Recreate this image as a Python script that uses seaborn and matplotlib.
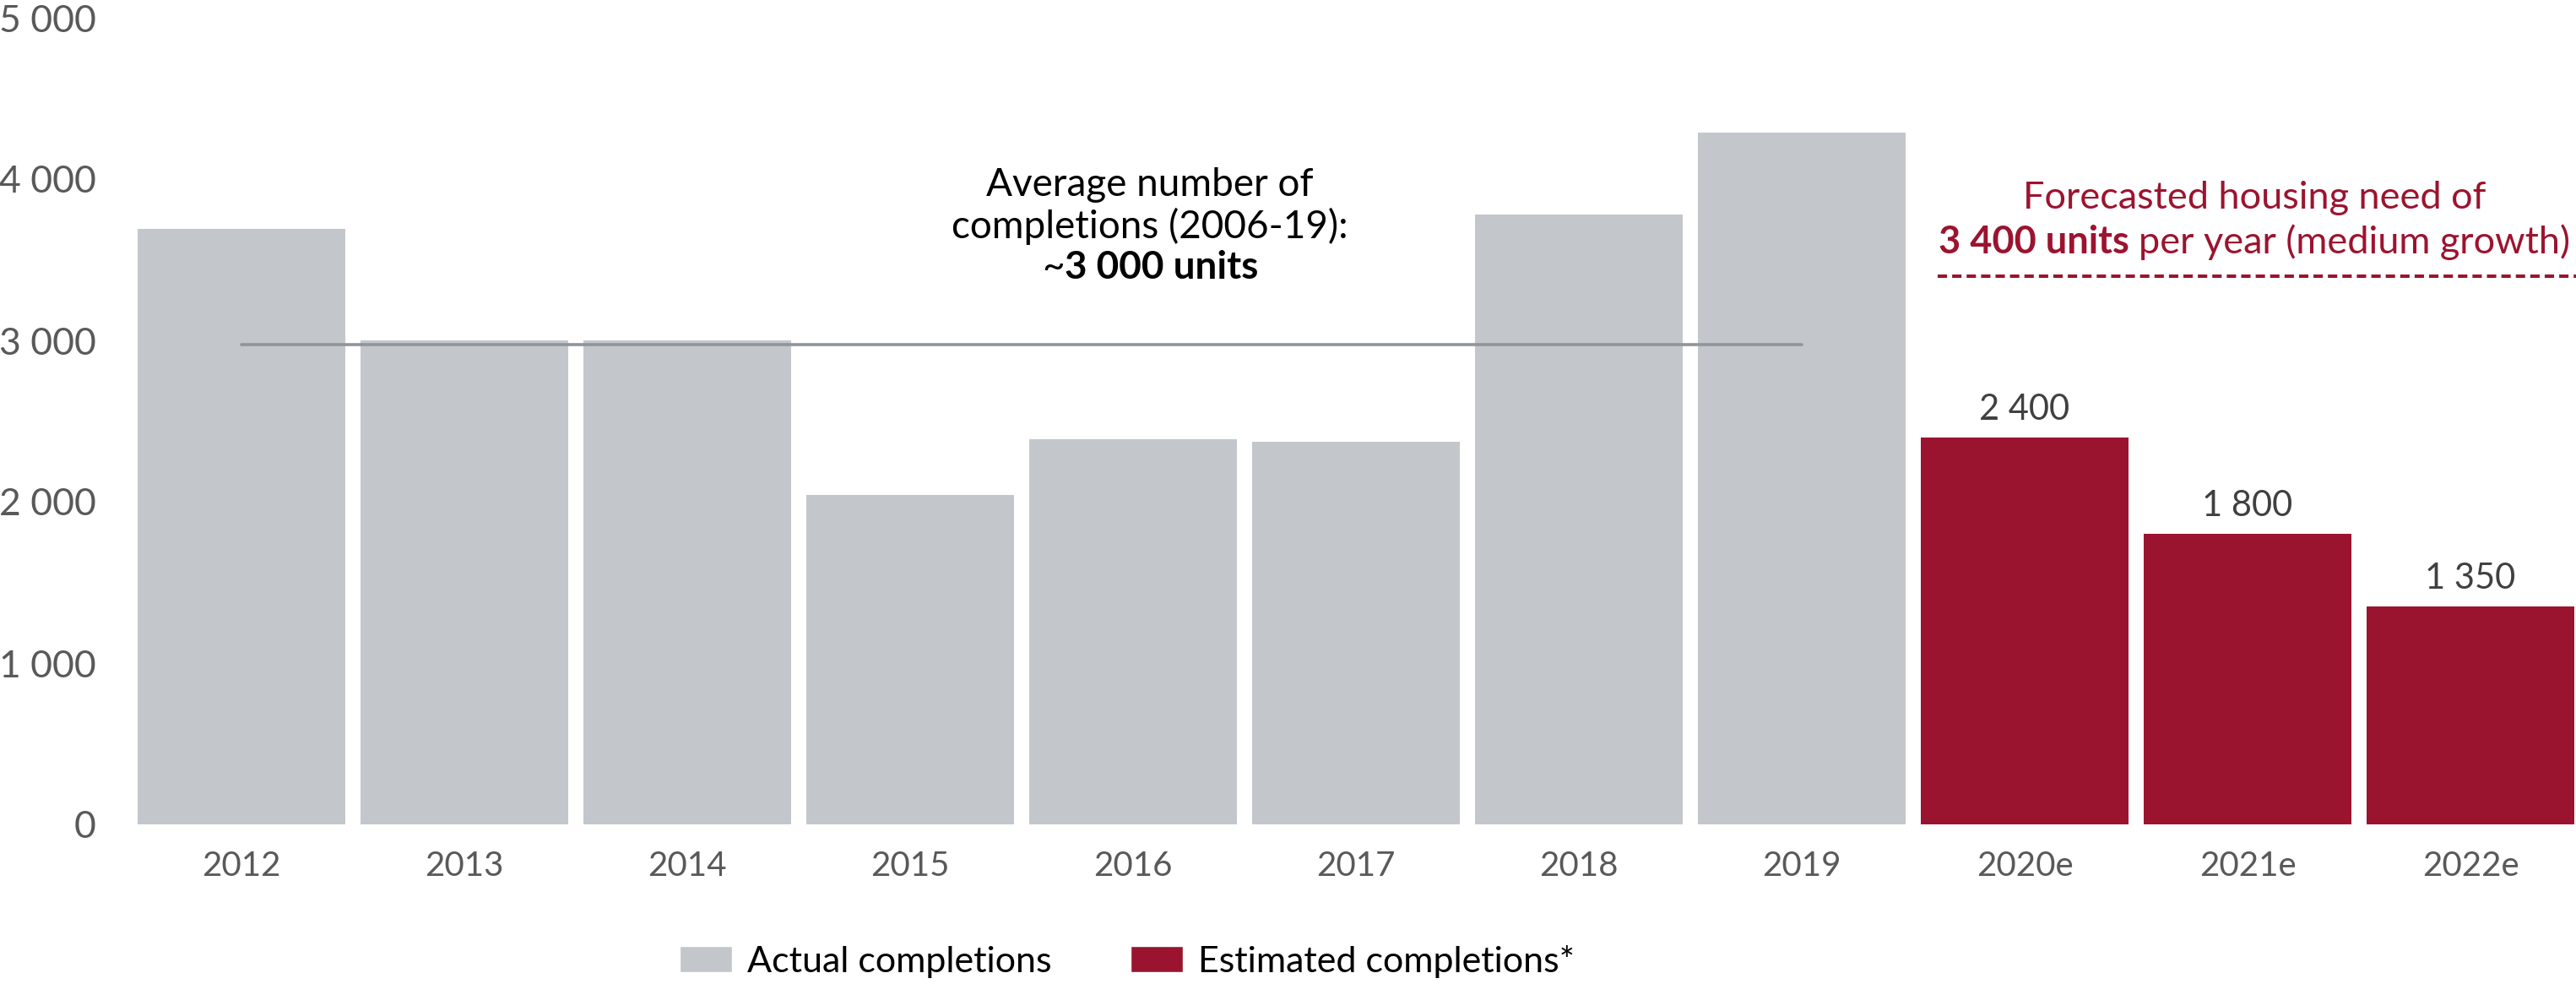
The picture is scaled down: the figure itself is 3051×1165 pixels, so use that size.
import matplotlib
matplotlib.use("Agg")
import matplotlib.pyplot as plt
import seaborn as sns
import pandas as pd
from matplotlib.patches import Patch
from matplotlib.transforms import ScaledTranslation

# ---- data -------------------------------------------------------------
years = ["2012", "2013", "2014", "2015", "2016", "2017", "2018", "2019",
         "2020e", "2021e", "2022e"]
completions = [3690, 3000, 3000, 2040, 2390, 2370, 3780, 4290, 2400, 1800, 1350]
series = ["Actual completions"] * 8 + ["Estimated completions*"] * 3
estimate_labels = ["2 400", "1 800", "1 350"]
avg_completions = 2975          # average 2006-19
housing_need = 3400             # forecasted need per year (medium growth)
y_ticks = [0, 1000, 2000, 3000, 4000, 5000]
y_tick_labels = ["0", "1 000", "2 000", "3 000", "4 000", "5 000"]

GREY = "#C3C7CB"
RED = "#9B142F"
AVG_LINE = "#8F9599"
TICK_COLOR = "#595959"
VALUE_COLOR = "#404040"

df = pd.DataFrame({"year": years, "value": completions, "series": series})

sns.set_theme(style="white")
plt.rcParams["font.family"] = ["Lato", "DejaVu Sans"]

W, H, DPI = 3051, 1165, 100
fig = plt.figure(figsize=(W / DPI, H / DPI), dpi=DPI)
ax = fig.add_axes([154 / W, 189 / H, (W - 154) / W, (976 - 21) / H])

sns.barplot(data=df, x="year", y="value", hue="series",
            palette={"Actual completions": GREY, "Estimated completions*": RED},
            width=0.932, dodge=False, saturation=1, linewidth=0,
            legend=False, ax=ax)

pitch_px = 264
ax.set_xlim(-0.5, -0.5 + (W - 154) / pitch_px)
ax.set_ylim(0, 5000)
ax.set_yticks(y_ticks, y_tick_labels)
ax.tick_params(axis="y", length=0, pad=29, labelsize=32, labelcolor=TICK_COLOR)
ax.tick_params(axis="x", length=0, pad=22, labelsize=29, labelcolor=TICK_COLOR)
ax.set_xlabel("")
ax.set_ylabel("")
sns.despine(ax=ax, left=True, bottom=True)
ax.grid(False)

# average line across the historical years
ax.plot([0, 7], [avg_completions, avg_completions], color=AVG_LINE, lw=2.6,
        solid_capstyle="round", zorder=3)

# housing need dashed line
ax.plot([7.61, ax.get_xlim()[1]], [housing_need, housing_need], color=RED,
        lw=2.9, dashes=(2.75, 1.5), zorder=3, clip_on=False)

# value labels on estimated bars
for i, lab in zip(range(8, 11), estimate_labels):
    ax.annotate(lab, (i, completions[i]), xytext=(0, 15), textcoords="offset points",
                ha="center", va="baseline", fontsize=30, color=VALUE_COLOR)

renderer = fig.canvas.get_renderer()


def text_width(s, **kw):
    t = ax.text(0, 0, s, **kw)
    w = t.get_window_extent(renderer).width
    t.remove()
    return w


def mixed_line(x, y, parts, size, color):
    """Draw a centred line made of (text, weight) parts on one baseline."""
    widths = []
    for s, wt in parts:
        lead = len(s) - len(s.lstrip(" "))
        core = s.lstrip(" ")
        w = text_width(core, fontsize=size, fontweight=wt)
        if lead:
            sp = (text_width("a a", fontsize=size, fontweight=wt)
                  - text_width("aa", fontsize=size, fontweight=wt))
            widths.append((lead * sp, core, w))
        else:
            widths.append((0, core, w))
    total = sum(a + b for a, _, b in widths)
    off = -total / 2
    for (lead_w, core, w), (_, wt) in zip(widths, parts):
        off += lead_w
        tr = ax.transData + ScaledTranslation(off / DPI, 0, fig.dpi_scale_trans)
        ax.text(x, y, core, transform=tr, ha="left", va="baseline",
                fontsize=size, fontweight=wt, color=color)
        off += w


# annotation for the historical average
avg_x = 4.076
mixed_line(avg_x, 3895, [("Average number of", "normal")], 33, "black")
mixed_line(avg_x, 3634, [("completions (2006-19):", "normal")], 33, "black")
mixed_line(avg_x, 3382, [("~", "normal"), ("3 000 units", "bold")], 33, "black")

# annotation for the forecasted need
need_x = 9.03
mixed_line(need_x, 3817, [("Forecasted housing need of", "normal")], 32.5, RED)
mixed_line(need_x, 3539, [("3 400 units", "bold"), (" per year (medium growth)", "normal")],
           32.5, RED)

# legend
handles = [Patch(facecolor=GREY, label="Actual completions"),
           Patch(facecolor=RED, label="Estimated completions*")]
fig.legend(handles=handles, loc="center", bbox_to_anchor=(1335 / W, (H - 1138) / H),
           ncol=2, frameon=False, fontsize=31, handlelength=1.44, handleheight=0.72,
           handletextpad=0.42, columnspacing=2.16, labelcolor="black")

fig.savefig("out.png", dpi=DPI, facecolor="white")
